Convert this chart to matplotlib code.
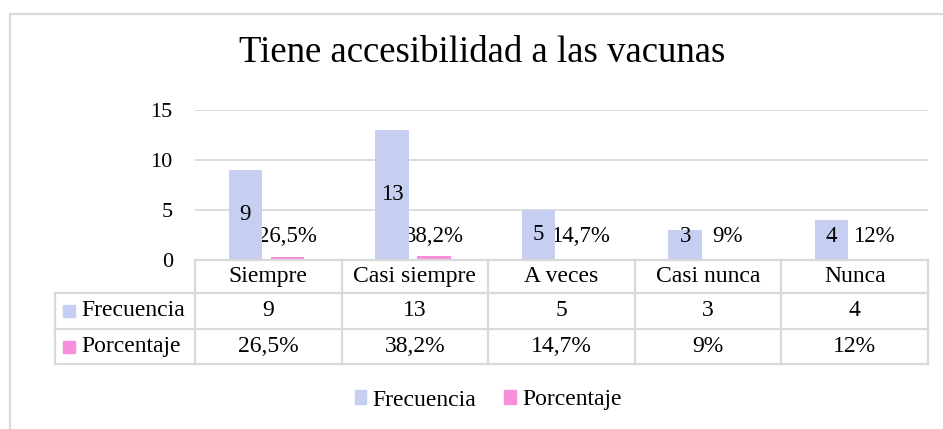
import matplotlib
matplotlib.use("Agg")
import matplotlib.pyplot as plt
from matplotlib.lines import Line2D
from matplotlib.patches import Rectangle
import matplotlib.transforms as mtransforms

categories = ["Siempre", "Casi siempre", "A veces", "Casi nunca", "Nunca"]
frecuencia = [9, 13, 5, 3, 4]
porcentaje = [26.5, 38.2, 14.7, 9, 12]
series_names = ["Frecuencia", "Porcentaje"]
yticks = [0, 5, 10, 15]
title = "Tiene accesibilidad a las vacunas"

BLUE = "#C6CEF2"
PINK = "#F78FDA"
GRID = "#D9D9D9"
FONT = "Liberation Serif"
plt.rcParams["font.family"] = [FONT, "DejaVu Serif"]

FS_TAB = 17
FS_LAB = 16.5
FS_TICK = 16

W, H = 943, 429
fig = plt.figure(figsize=(W / 100, H / 100), dpi=100)

def fx(px):
    return px / W

def fy(py):
    return 1 - py / H

# plot area
x0, x1 = 195, 928
y_top, y_zero = 110, 260
ax = fig.add_axes([fx(x0), fy(y_zero), fx(x1) - fx(x0), fy(y_top) - fy(y_zero)])
ax.set_xlim(-0.5, len(categories) - 0.5)
ax.set_ylim(0, 15)
for s in ax.spines.values():
    s.set_visible(False)
ax.set_yticks(yticks)
ax.set_yticklabels([str(t) for t in yticks], fontsize=FS_TICK)
ax.tick_params(axis="y", length=0, pad=16)
ax.set_xticks([])
ax.yaxis.grid(True, color=GRID, linewidth=1.3)
ax.set_axisbelow(True)

n = len(categories)
bw = 0.228
off_b, off_p = -0.157, 0.13
xs = list(range(n))
ax.bar([x + off_b for x in xs], frecuencia, width=bw, color=BLUE, zorder=3)
ax.bar([x + off_p for x in xs], [p / 100 for p in porcentaje], width=bw, color=PINK, zorder=3)

def pct(v):
    return f"{v:g}".replace(".", ",") + "%"

for i in xs:
    yb = max(frecuencia[i] / 2, 2.3)
    ax.text(i + off_b, yb, str(frecuencia[i]), ha="center", va="center",
            fontsize=FS_LAB, zorder=5)
    ax.text(i + off_p, 2.3, pct(porcentaje[i]), ha="center", va="center",
            fontsize=FS_LAB, zorder=2)

# table
trans = mtransforms.blended_transform_factory(ax.transData, fig.transFigure)
lw = 1.6
row_y = [260, 293, 329, 364]
left_tab = 55

def hline(y, xa, xb):
    fig.add_artist(Line2D([fx(xa), fx(xb)], [fy(y), fy(y)], color=GRID, lw=lw))

def vline(x, ya, yb):
    fig.add_artist(Line2D([fx(x), fx(x)], [fy(ya), fy(yb)], color=GRID, lw=lw))

hline(260, x0, x1)
for y in row_y[1:]:
    hline(y, left_tab, x1)
vline(left_tab, 293, 364)
vline(x0, 260, 364)
for i in range(1, n):
    xb = i - 0.5
    fig.add_artist(Line2D([xb, xb], [fy(260), fy(364)], color=GRID, lw=lw, transform=trans))
vline(x1, 260, 364)

rows_mid = [(row_y[k] + row_y[k + 1]) / 2 for k in range(3)]
for i, c in enumerate(categories):
    fig.text(i, fy(rows_mid[0]), c, transform=trans, ha="center", va="center", fontsize=FS_TAB)
    fig.text(i, fy(rows_mid[1]), str(frecuencia[i]), transform=trans, ha="center", va="center", fontsize=FS_TAB)
    fig.text(i, fy(rows_mid[2]), pct(porcentaje[i]), transform=trans, ha="center", va="center", fontsize=FS_TAB)

for k, (name, col) in enumerate(zip(series_names, [BLUE, PINK])):
    ym = rows_mid[k + 1]
    fig.add_artist(Rectangle((fx(63), fy(ym + 6)), fx(12), 12 / H, color=col,
                             transform=fig.transFigure))
    fig.text(fx(81), fy(ym), name, ha="left", va="center", fontsize=FS_TAB)

# legend
handles = [Rectangle((0, 0), 1, 1, color=BLUE), Rectangle((0, 0), 1, 1, color=PINK)]
fig.legend(handles, series_names, loc="center", bbox_to_anchor=(fx(488), fy(400)),
           ncol=2, frameon=False, fontsize=FS_TAB, handlelength=0.5, handleheight=0.5,
           handletextpad=0.25, columnspacing=1.2)

# title
fig.text(fx(482), fy(62), title, ha="center", va="baseline", fontsize=26.5)

# outer frame
fig.add_artist(Line2D([fx(10), fx(10)], [fy(14), 0], color=GRID, lw=1.6))
fig.add_artist(Line2D([fx(10), 1], [fy(14), fy(14)], color=GRID, lw=1.6))

fig.savefig("out.png", dpi=100)
